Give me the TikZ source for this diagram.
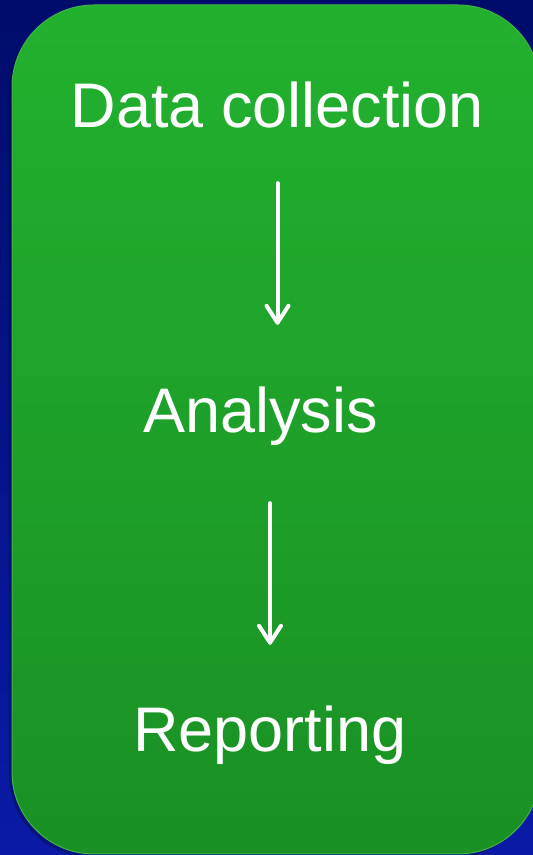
\documentclass[tikz,border=0pt]{standalone}
\usepackage{fontspec}
\setmainfont{Liberation Sans}
\usetikzlibrary{arrows.meta}

\definecolor{navytop}{RGB}{0,12,106}
\definecolor{navybottom}{RGB}{10,26,166}
\definecolor{greentop}{RGB}{34,177,46}
\definecolor{greenbottom}{RGB}{26,144,37}
\definecolor{greenrim}{RGB}{64,178,70}

\tikzset{
	stage/.style={anchor=base, text=white, inner sep=0pt, text height=46pt, text depth=13pt, font=\fontsize{63}{75}\selectfont},
	flow/.style={draw=white, line width=4pt, line cap=round, -{Straight Barb[length=17pt, width=22pt, round]}}
}

\begin{document}
\begin{tikzpicture}
	\useasboundingbox (0,0) rectangle (533pt,855pt);
	\clip (0,0) rectangle (533pt,855pt);
	\shade[top color=navytop, bottom color=navybottom] (0,0) rectangle (533pt,855pt);
	\fill[black, opacity=0.25, rounded corners=82pt] (9pt,-2pt) rectangle (537pt,847pt);
	\shade[top color=greentop, bottom color=greenbottom, draw=greenrim, line width=1pt, rounded corners=82pt] (12pt,1pt) rectangle (540pt,850pt);

	\node[stage] (data) at (277.5pt,727pt) {Data collection};
	\node[stage] (analysis) at (260.5pt,422pt) {Analysis};
	\node[stage] (reporting) at (270pt,103pt) {Reporting};

	\draw[flow, shorten <=42pt, shorten >=62pt] (data.south) -- (data.south |- analysis.north);
	\draw[flow, shorten <=57pt, shorten >=61pt] (analysis.south -| reporting.north) -- (reporting.north);
\end{tikzpicture}
\end{document}
